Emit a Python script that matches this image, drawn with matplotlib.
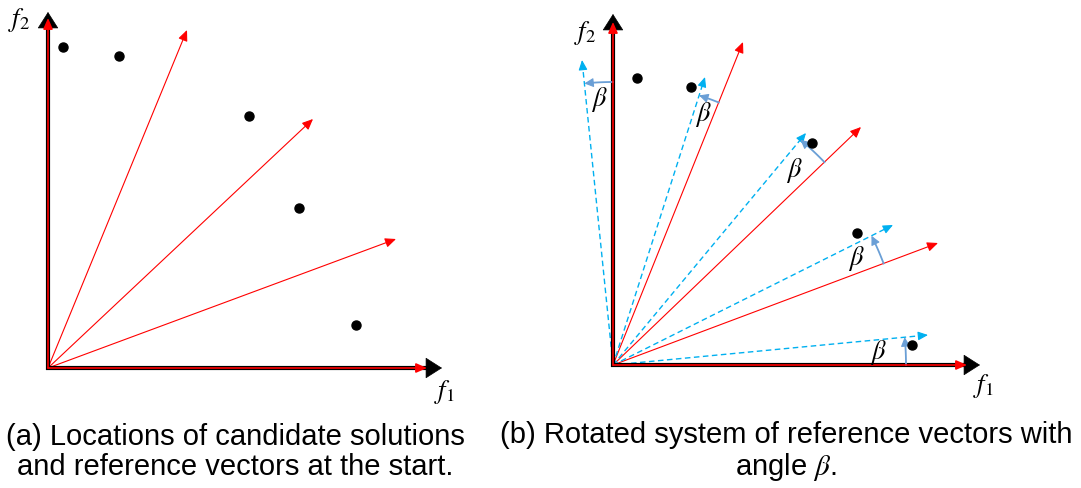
import numpy as np
import matplotlib.pyplot as plt

plt.rcParams["mathtext.fontset"] = "stix"

# pixel offsets from each panel's origin (x right, y up)
origin_a = (48, 120)
origin_b = (613, 123)

ref_a_dx = [139, 265, 348]
ref_a_dy = [338, 249, 129]
dots_a_dx = [15, 71, 201, 251, 308]
dots_a_dy = [321, 312, 252, 160, 43]

ref_b_dx = [0, 130, 248, 325, 354]
ref_b_dy = [343, 323, 238, 122, 0]
rot_b_dx = [-31, 92, 193, 280, 315]
rot_b_dy = [305, 288, 232, 140, 30]
dots_b_dx = [24, 78, 199, 244, 299]
dots_b_dy = [287, 278, 222, 132, 20]
arc_r = [283, 283, 293, 289, 293]

cap_a = "(a) Locations of candidate solutions\nand reference vectors at the start."
cap_b = "(b) Rotated system of reference vectors with\nangle $\\beta$."

RED = "#ff0000"
BLUE = "#00b0f0"
ARC = "#6a9fd6"


def arrow(ax, p0, p1, color, lw, ms, hl=0.5, hw=0.2, z=2):
    ax.annotate("", xy=p1, xytext=p0,
                arrowprops=dict(arrowstyle=f"-|>,head_length={hl},head_width={hw}",
                                color=color, lw=lw, mutation_scale=ms,
                                shrinkA=0, shrinkB=0), zorder=z)


def draw_axes(ax, o, xlen, ylen, rx, ry):
    x0, y0 = o
    # black axis shafts, then heads
    ax.plot([x0 - 2, x0 + xlen - 10], [y0, y0], color="black", lw=3.0,
            solid_capstyle="butt", zorder=3)
    ax.plot([x0, x0], [y0 - 2, y0 + ylen - 10], color="black", lw=3.0,
            solid_capstyle="butt", zorder=3)
    arrow(ax, (x0 + xlen - 14, y0), (x0 + xlen, y0), "black", 0.5, 20, 0.55, 0.35, 3)
    arrow(ax, (x0, y0 + ylen - 14), (x0, y0 + ylen), "black", 0.5, 20, 0.55, 0.35, 3)
    arrow(ax, (x0, y0), (x0 + rx, y0), RED, 1.2, 13, 0.5, 0.22, 4)
    arrow(ax, (x0, y0), (x0, y0 + ry), RED, 1.2, 13, 0.5, 0.22, 4)


fig = plt.figure(figsize=(10.81, 4.88), dpi=100)
ax = fig.add_axes([0, 0, 1, 1])
ax.set_xlim(0, 1081)
ax.set_ylim(0, 488)
ax.axis("off")

# panel a
ox, oy = origin_a
draw_axes(ax, origin_a, 394, 356, 379, 350)
for dx, dy in zip(ref_a_dx, ref_a_dy):
    arrow(ax, (ox, oy), (ox + dx, oy + dy), RED, 0.8, 13, 0.5, 0.22)
ax.plot(ox + np.array(dots_a_dx), oy + np.array(dots_a_dy), "o", color="black", ms=6.5, zorder=5)
ax.text(19, 488 - 20, "$f_2$", fontsize=19, ha="center", va="center")
ax.text(444, 488 - 392, "$f_1$", fontsize=19, ha="center", va="center")
ax.text(235, 488 - 452, cap_a, fontsize=21, ha="center", va="center",
        family="Liberation Sans", linespacing=1.05)

# panel b
ox, oy = origin_b
draw_axes(ax, origin_b, 367, 351, 354, 343)
for dx, dy in zip(ref_b_dx[1:4], ref_b_dy[1:4]):
    arrow(ax, (ox, oy), (ox + dx, oy + dy), RED, 0.8, 13, 0.5, 0.22)
for dx, dy in zip(rot_b_dx, rot_b_dy):
    ex, ey = ox + dx, oy + dy
    ax.plot([ox, ex - dx * 0.02], [oy, ey - dy * 0.02], color=BLUE, lw=1.0,
            ls=(0, (4, 2.5)), zorder=2)
    arrow(ax, (ex - dx * 0.03, ey - dy * 0.03), (ex, ey), BLUE, 0.8, 12, 0.5, 0.22)
ax.plot(ox + np.array(dots_b_dx), oy + np.array(dots_b_dy), "o", color="black", ms=6.5, zorder=5)

for i in range(5):
    a0 = np.arctan2(ref_b_dy[i], ref_b_dx[i])
    a1 = np.arctan2(rot_b_dy[i], rot_b_dx[i])
    t = np.linspace(a0, a1, 30)
    r = arc_r[i]
    ax.plot(ox + r * np.cos(t[:-3]), oy + r * np.sin(t[:-3]), color=ARC, lw=1.3, zorder=3)
    arrow(ax, (ox + r * np.cos(t[-5]), oy + r * np.sin(t[-5])),
          (ox + r * np.cos(t[-1]), oy + r * np.sin(t[-1])), ARC, 0.8, 11, 0.5, 0.25, 3)
    am = (a0 + a1) / 2
    ax.text(ox + 266 * np.cos(am), oy + 266 * np.sin(am), "$\\beta$", fontsize=19,
            ha="center", va="center", zorder=6)

ax.text(585, 488 - 33, "$f_2$", fontsize=19, ha="center", va="center")
ax.text(983, 488 - 386, "$f_1$", fontsize=19, ha="center", va="center")
ax.text(786, 488 - 452, cap_b, fontsize=21, ha="center", va="center",
        family="Liberation Sans", linespacing=1.05)

fig.savefig("out.png", dpi=100)
